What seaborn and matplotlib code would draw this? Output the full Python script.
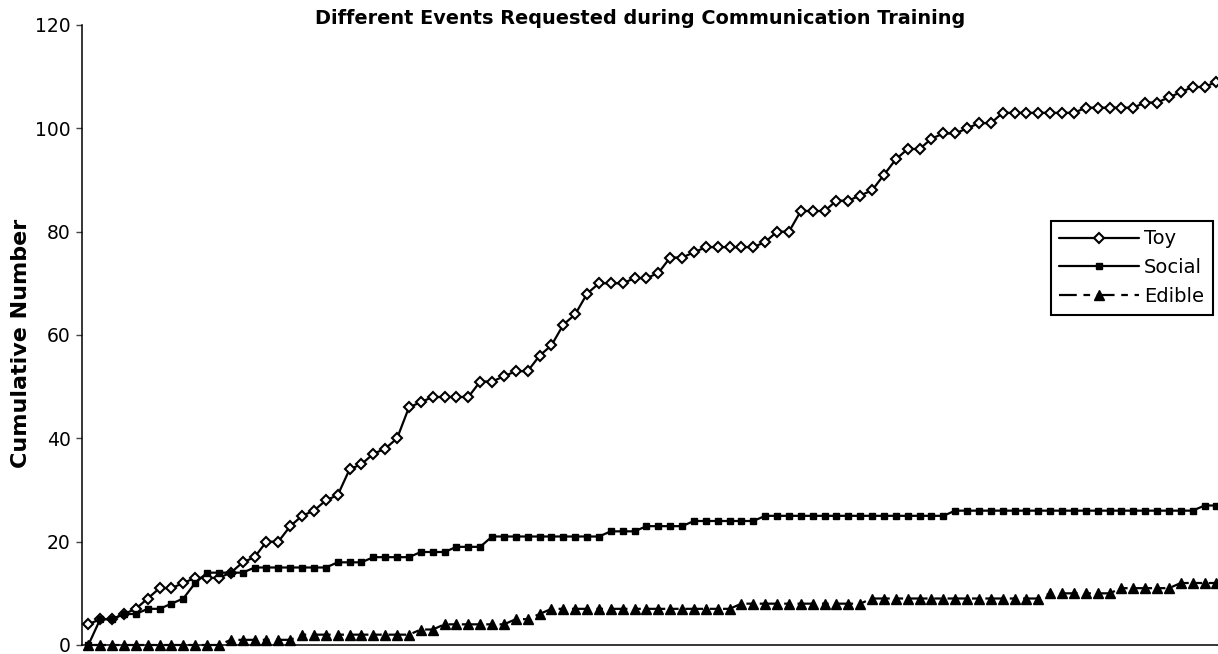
import numpy as np
import pandas as pd
import matplotlib
matplotlib.use("Agg")
import matplotlib.pyplot as plt
import seaborn as sns

# cumulative counts per session
toy = [4, 5, 5, 6, 7, 9, 11, 11, 12, 13,
       13, 13, 14, 16, 17, 20, 20, 23, 25, 26,
       28, 29, 34, 35, 37, 38, 40, 46, 47, 48,
       48, 48, 48, 51, 51, 52, 53, 53, 56, 58,
       62, 64, 68, 70, 70, 70, 71, 71, 72, 75,
       75, 76, 77, 77, 77, 77, 77, 78, 80, 80,
       84, 84, 84, 86, 86, 87, 88, 91, 94, 96,
       96, 98, 99, 99, 100, 101, 101, 103, 103, 103,
       103, 103, 103, 103, 104, 104, 104, 104, 104, 105,
       105, 106, 107, 108, 108, 109]
social = [0, 5, 5, 6, 6, 7, 7, 8, 9, 12,
          14, 14, 14, 14, 15, 15, 15, 15, 15, 15,
          15, 16, 16, 16, 17, 17, 17, 17, 18, 18,
          18, 19, 19, 19, 21, 21, 21, 21, 21, 21,
          21, 21, 21, 21, 22, 22, 22, 23, 23, 23,
          23, 24, 24, 24, 24, 24, 24, 25, 25, 25,
          25, 25, 25, 25, 25, 25, 25, 25, 25, 25,
          25, 25, 25, 26, 26, 26, 26, 26, 26, 26,
          26, 26, 26, 26, 26, 26, 26, 26, 26, 26,
          26, 26, 26, 26, 27, 27]
edible = [0, 0, 0, 0, 0, 0, 0, 0, 0, 0,
          0, 0, 1, 1, 1, 1, 1, 1, 2, 2,
          2, 2, 2, 2, 2, 2, 2, 2, 3, 3,
          4, 4, 4, 4, 4, 4, 5, 5, 6, 7,
          7, 7, 7, 7, 7, 7, 7, 7, 7, 7,
          7, 7, 7, 7, 7, 8, 8, 8, 8, 8,
          8, 8, 8, 8, 8, 8, 9, 9, 9, 9,
          9, 9, 9, 9, 9, 9, 9, 9, 9, 9,
          9, 10, 10, 10, 10, 10, 10, 11, 11, 11,
          11, 11, 12, 12, 12, 12]
sessions = list(range(1, len(toy) + 1))

y_ticks = [0, 20, 40, 60, 80, 100, 120]
title = "Different Events Requested during Communication Training"
y_label = "Cumulative Number"

sns.set_style("white")
plt.rcParams['font.family'] = ['DejaVu Sans']
plt.rcParams['text.color'] = 'black'
plt.rcParams['ytick.color'] = 'black'

W, H = 1218, 654
fig = plt.figure(figsize=(W / 100, H / 100), dpi=100)

# plot area in pixels: left axis at 82.4, y=0 at 645, y=120 at 25
left_px, bottom_px, top_px = 82.4, 645, 25
ax = fig.add_axes([left_px / W, (H - bottom_px) / H, 1 - left_px / W,
                   (bottom_px - top_px) / H])

df = pd.DataFrame({"session": sessions, "Toy": toy, "Social": social, "Edible": edible})

sns.lineplot(data=df, x="session", y="Toy", ax=ax, color="black", linewidth=1.6,
             marker="D", markersize=5, markerfacecolor="white",
             markeredgecolor="black", markeredgewidth=1.5, label="Toy")
sns.lineplot(data=df, x="session", y="Social", ax=ax, color="black", linewidth=1.6,
             marker="s", markersize=5, markerfacecolor="black",
             markeredgecolor="black", markeredgewidth=1, label="Social")
sns.lineplot(data=df, x="session", y="Edible", ax=ax, color="black", linewidth=1.6,
             marker="^", markersize=6.5, markerfacecolor="black",
             markeredgecolor="black", markeredgewidth=1, dashes=(8, 3, 3, 3),
             label="Edible")
for ln in ax.lines:
    ln.set_clip_on(False)

spacing_px = 11.875
ax.set_xlim(0.5, 0.5 + (W - left_px) / spacing_px)
ax.set_ylim(0, 120)
ax.set_yticks(y_ticks)
ax.set_xticks([])
ax.set_xlabel("")
ax.set_ylabel("")
ax.tick_params(axis="y", direction="out", length=4.5, width=1, color="#444444",
               labelcolor="black", labelsize=13.5, pad=4, left=True)
for side in ["top", "right"]:
    ax.spines[side].set_visible(False)
for side in ["left", "bottom"]:
    ax.spines[side].set_color("black")
    ax.spines[side].set_linewidth(1.1)

fig.text(640 / W, 1 - 18 / H, title, ha="center", va="center",
         fontsize=13.9, fontweight="bold", color="black")
fig.text(21 / W, 1 - 343 / H, y_label, ha="center", va="center",
         rotation=90, fontsize=16, fontweight="bold", color="black")

leg = ax.legend(loc="upper left", bbox_to_anchor=(1050.7 / W, 1 - 220.7 / H),
                bbox_transform=fig.transFigure, borderaxespad=0,
                fontsize=14, handlelength=4.1, handletextpad=0.25,
                labelspacing=0.5, borderpad=0.45, frameon=True,
                fancybox=False, framealpha=1)
leg.get_frame().set_edgecolor("black")
leg.get_frame().set_linewidth(1.5)
for t in leg.get_texts():
    t.set_color("black")

fig.savefig("out.png", dpi=100)
